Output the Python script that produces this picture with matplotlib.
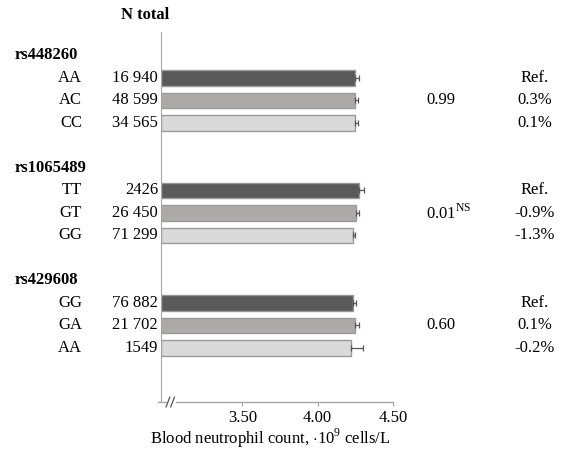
import numpy as np
import matplotlib
matplotlib.use("Agg")
import matplotlib.pyplot as plt
import matplotlib.transforms as mtransforms

plt.rcParams['font.family'] = ['Liberation Serif', 'DejaVu Serif']
plt.rcParams['mathtext.fontset'] = 'custom'
plt.rcParams['mathtext.rm'] = 'Liberation Serif'
plt.rcParams['font.size'] = 12

snps = ["rs448260", "rs1065489", "rs429608"]
genotypes = [["AA", "AC", "CC"], ["TT", "GT", "GG"], ["GG", "GA", "AA"]]
n_total = [["16 940", "48 599", "34 565"], ["2426", "26 450", "71 299"], ["76 882", "21 702", "1549"]]
means = [[4.249, 4.249, 4.247], [4.275, 4.253, 4.235], [4.235, 4.247, 4.218]]
errs = [[0.025, 0.016, 0.020], [0.033, 0.018, 0.011], [0.018, 0.025, 0.080]]
p_values = ["0.99", "0.01$^{\\mathrm{NS}}$", "0.60"]
diffs = [["Ref.", "0.3%", "0.1%"], ["Ref.", "-0.9%", "-1.3%"], ["Ref.", "0.1%", "-0.2%"]]
xticks = [3.50, 4.00, 4.50]

bar_colors = ["#595959", "#ada9a9", "#d9d9d9"]
W, H = 568, 453

fig = plt.figure(figsize=(W / 100, H / 100), dpi=100)
ax = fig.add_axes([161 / W, 1 - 402 / H, (393 - 161) / W, (402 - 32) / H])
ax.set_xlim(2.96, 4.5)
ax.set_ylim(14.4, -2.04)

tr = mtransforms.blended_transform_factory(fig.transFigure, ax.transData)

for g in range(3):
    ys = [g * 5 + i for i in range(3)]
    ax.barh(ys, np.array(means[g]) - 2.96, left=2.96, height=0.7,
            color=bar_colors, edgecolor="#9a9a9a", linewidth=1, zorder=2)
    ax.errorbar(means[g], ys, xerr=[np.zeros(3), errs[g]], fmt="none",
                ecolor="#555555", elinewidth=0.9, capsize=2.5, capthick=0.9, zorder=3)
    fig.text(15 / W, g * 5 - 1, snps[g], transform=tr, fontweight="bold",
             ha="left", va="center")
    for i in range(3):
        fig.text(82 / W, ys[i], genotypes[g][i], transform=tr, ha="right", va="center")
        fig.text(158 / W, ys[i], n_total[g][i], transform=tr, ha="right", va="center")
        fig.text(535 / W, ys[i], diffs[g][i], transform=tr, ha="center", va="center")
    fig.text(426 / W, ys[1], p_values[g], transform=tr, ha="left", va="center")

fig.text(145 / W, 1 - 15 / H, "N total", fontweight="bold", ha="center", va="center")

# axes styling
for s in ["top", "right", "bottom"]:
    ax.spines[s].set_visible(False)
ax.spines["left"].set_color("#a6a6a6")
ax.set_yticks([])
ax.set_xticks(xticks)
ax.set_xticklabels(["%.2f" % t for t in xticks])
ax.tick_params(axis="x", length=3, color="#a6a6a6", pad=3)

# broken x axis line
ln = dict(color="#a6a6a6", lw=1, transform=ax.transAxes, clip_on=False)
ax.plot([-0.012, 0.02], [0, 0], **ln)
ax.plot([0.065, 1.0], [0, 0], **ln)
for dx in [0.03, 0.05]:
    ax.plot([dx - 0.008, dx + 0.008], [-0.013, 0.013], color="#555555", lw=0.9,
            transform=ax.transAxes, clip_on=False)

fig.text(270 / W, 1 - 438 / H, "Blood neutrophil count, $\\cdot$10$^{9}$ cells/L",
         ha="center", va="center")

fig.savefig("out.png", dpi=100)
